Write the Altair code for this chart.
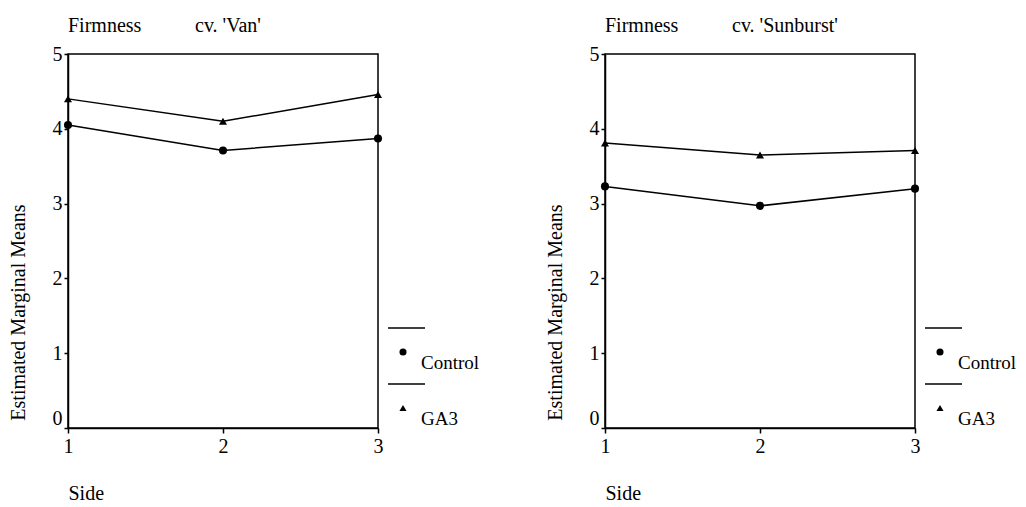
import altair as alt
import pandas as pd

# ---- data ----
sides = [1, 2, 3]
groups = ["Control", "GA3"]
van_control = [4.05, 3.71, 3.87]
van_ga3 = [4.40, 4.10, 4.46]
sun_control = [3.23, 2.97, 3.20]
sun_ga3 = [3.81, 3.65, 3.71]
y_ticks = [0, 1, 2, 3, 4, 5]

FONT = "Liberation Serif"
FS = 20
W, H = 310, 374

shape_scale = alt.Scale(domain=groups, range=["circle", "triangle-up"])


def panel(cv, control, ga3):
    df = pd.DataFrame({
        "Side": sides * 2,
        "Mean": control + ga3,
        "Group": ["Control"] * 3 + ["GA3"] * 3,
    })
    x = alt.X("Side:O",
              scale=alt.Scale(type="point", domain=sides, padding=0),
              axis=alt.Axis(title="Side", labelAngle=0, labelAlign="center",
                            titleX=0, titleY=71, titleAlign="left",
                            titleAnchor="start", titleBaseline="alphabetic",
                            labelFlush=False, labelOverlap=False,
                            tickSize=5, labelPadding=3))
    y = alt.Y("Mean:Q",
              scale=alt.Scale(domain=[0, 5], nice=False, zero=True),
              axis=alt.Axis(values=y_ticks, tickCount=len(y_ticks), format="d",
                            title="Estimated Marginal Means",
                            titleX=-50, titleY=258, titleAngle=270,
                            titleAlign="center", titleBaseline="middle",
                            tickSize=4, labelPadding=2, labelOverlap=False,
                            labelBaseline={"condition": {"test": "datum.value == 0", "value": "bottom"},
                                           "value": "middle"}))
    base = alt.Chart(df)
    lines = base.mark_line(color="black", strokeWidth=1.5).encode(
        x=x, y=y, detail="Group:N")
    pts = base.mark_point(filled=True, color="black", size=65, opacity=1).encode(
        x=x, y=y, shape=alt.Shape("Group:N", scale=shape_scale, legend=None))

    layers = [lines, pts]
    for i, g in enumerate(groups):
        one = pd.DataFrame({"Group": [g]})
        layers.append(alt.Chart(one).mark_rule(color="black", strokeWidth=1.5).encode(
            x=alt.value(320), x2=alt.value(357), y=alt.value(274 + 56 * i)))
        layers.append(alt.Chart(one).mark_point(filled=True, color="black", size=50, opacity=1).encode(
            x=alt.value(335), y=alt.value(298 + 56 * i),
            shape=alt.Shape("Group:N", scale=shape_scale, legend=None)))
        layers.append(alt.Chart(one).mark_text(align="left", baseline="alphabetic", font=FONT,
                                               fontSize=19, color="black").encode(
            x=alt.value(353), y=alt.value(315 + 56 * i), text="Group:N"))

    tdf = pd.DataFrame({"t": ["Firmness"], "c": ["cv. " + cv]})
    layers.append(alt.Chart(tdf).mark_text(align="left", baseline="alphabetic", font=FONT,
                                           fontSize=FS, color="black").encode(
        x=alt.value(0), y=alt.value(-22), text="t:N"))
    layers.append(alt.Chart(tdf).mark_text(align="left", baseline="alphabetic", font=FONT,
                                           fontSize=FS, color="black").encode(
        x=alt.value(127), y=alt.value(-22), text="c:N"))
    return alt.layer(*layers).properties(width=W, height=H)


chart = alt.hconcat(
    panel("'Van'", van_control, van_ga3),
    panel("'Sunburst'", sun_control, sun_ga3),
    spacing=227,
).properties(
    autosize=alt.AutoSizeParams(type="none"),
    padding={"left": 60, "top": 46, "right": 950, "bottom": 445},
    bounds="flush",
).configure_view(
    stroke="black", strokeWidth=1.5
).configure_axis(
    grid=False, domainColor="black", tickColor="black", labelColor="black",
    titleColor="black", labelFont=FONT, titleFont=FONT, labelFontSize=FS,
    titleFontSize=FS, titleFontWeight="normal", domainWidth=1.5, tickWidth=1.5,
)

chart.save("out.html", embed_options={"renderer": "svg", "actions": False})
